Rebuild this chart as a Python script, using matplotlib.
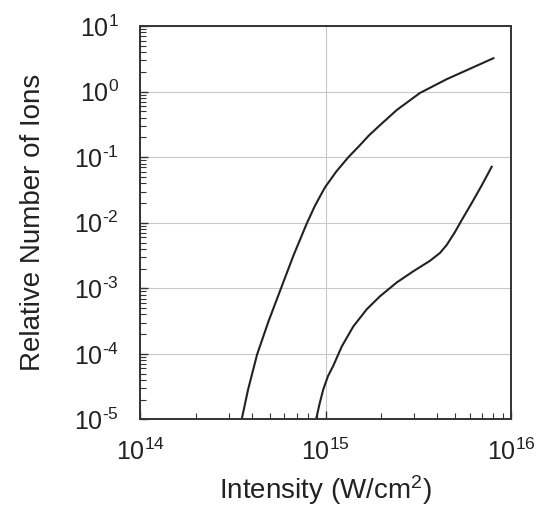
import numpy as np
import matplotlib.pyplot as plt
from matplotlib.ticker import LogLocator, NullFormatter, FuncFormatter

plt.rcParams['font.family'] = 'Liberation Sans'
plt.rcParams['mathtext.fontset'] = 'custom'
plt.rcParams['mathtext.rm'] = 'Liberation Sans'
plt.rcParams['mathtext.it'] = 'Liberation Sans'

# curves (log10 of intensity, log10 of relative ions)
logI_1 = [14.548, 14.582, 14.631, 14.693, 14.760, 14.827, 14.899, 14.943,
          14.997, 15.059, 15.123, 15.181, 15.235, 15.294, 15.384, 15.509,
          15.653, 15.779, 15.905]
logN_1 = [-5.0, -4.55, -4.01, -3.50, -3.0, -2.5, -2.01, -1.74,
          -1.46, -1.215, -1.0, -0.83, -0.665, -0.51, -0.28, -0.02,
          0.19, 0.35, 0.51]

logI_2 = [14.949, 14.968, 14.988, 15.013, 15.042, 15.087, 15.150, 15.222,
          15.294, 15.384, 15.473, 15.563, 15.617, 15.653, 15.698, 15.734,
          15.788, 15.842, 15.896]
logN_2 = [-5.0, -4.76, -4.54, -4.34, -4.18, -3.89, -3.58, -3.32,
          -3.12, -2.91, -2.74, -2.58, -2.46, -2.34, -2.14, -1.96,
          -1.70, -1.43, -1.145]


def sci(v, pos):
    e = int(round(np.log10(v)))
    s = str(e).replace('-', '\u2010')
    return '$10^{%s}$' % s


fig = plt.figure(figsize=(5.4, 5.12), dpi=100)
ax = fig.add_axes([0.2593, 0.1807, 0.6870, 0.7683])

ax.plot(10 ** np.array(logI_1), 10 ** np.array(logN_1), color='#222222', lw=1.5)
ax.plot(10 ** np.array(logI_2), 10 ** np.array(logN_2), color='#222222', lw=1.5)

ax.set_xscale('log')
ax.set_yscale('log')
ax.set_xlim(1e14, 1e16)
ax.set_ylim(1e-5, 1e1)

ax.xaxis.set_major_locator(LogLocator(base=10, numticks=10))
ax.xaxis.set_minor_locator(LogLocator(base=10, subs=np.arange(2, 10), numticks=20))
ax.yaxis.set_major_locator(LogLocator(base=10, numticks=10))
ax.yaxis.set_minor_locator(LogLocator(base=10, subs=np.arange(2, 10), numticks=20))
ax.xaxis.set_major_formatter(FuncFormatter(sci))
ax.yaxis.set_major_formatter(FuncFormatter(sci))
ax.xaxis.set_minor_formatter(NullFormatter())
ax.yaxis.set_minor_formatter(NullFormatter())

ax.grid(True, which='major', color='#c8c8c8', lw=0.8)
ax.tick_params(which='both', direction='in', top=False, right=False,
               color='#333333', labelsize=18, labelcolor='#222222')
ax.tick_params(which='major', length=6, width=1.0)
ax.tick_params(which='minor', length=4, width=0.8)
ax.tick_params(axis='x', which='major', pad=14)
ax.tick_params(axis='y', which='major', pad=15)

for s in ax.spines.values():
    s.set_linewidth(1.4)
    s.set_color('#333333')

ax.set_xlabel('Intensity (W/cm$^2$)', fontsize=20, color='#222222', labelpad=6)
ax.set_ylabel('Relative Number of Ions', fontsize=20, color='#222222', labelpad=20)

fig.savefig('out.png', dpi=100)
